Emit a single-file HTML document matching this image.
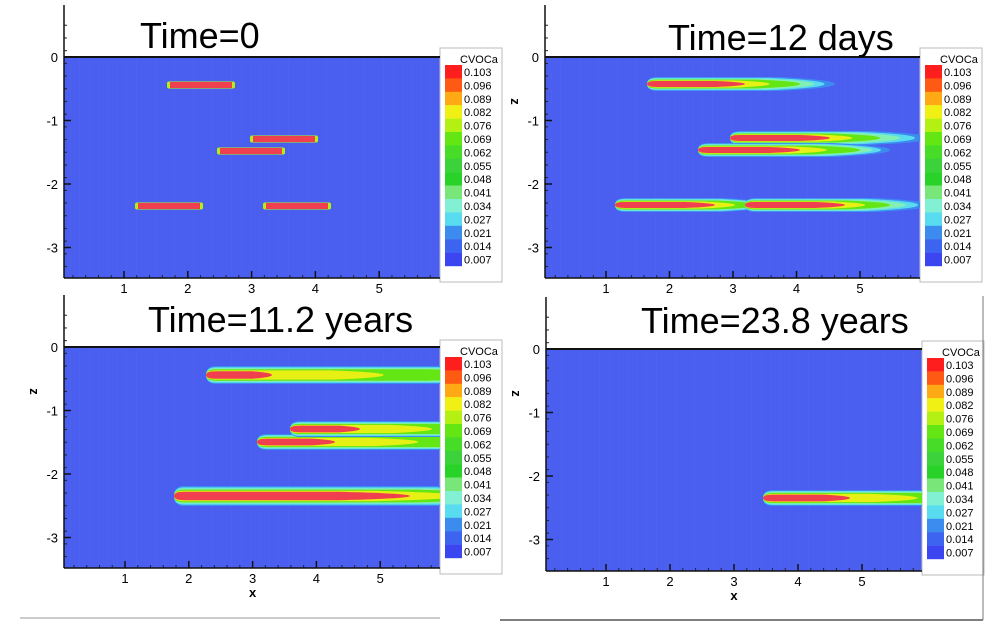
<!DOCTYPE html>
<html><head><meta charset="utf-8"><style>
body{margin:0;background:#fff;}
svg{display:block;font-family:"Liberation Sans",sans-serif;}
</style></head><body>
<svg id="s" width="1000" height="639" viewBox="0 0 1000 639" xmlns="http://www.w3.org/2000/svg">
<defs>
<clipPath id="c0"><rect x="64" y="57" width="376" height="221"/></clipPath>
<clipPath id="c1"><rect x="545" y="57" width="375" height="221"/></clipPath>
<clipPath id="c2"><rect x="64" y="347" width="376" height="221"/></clipPath>
<clipPath id="c3"><rect x="546" y="349" width="376" height="222"/></clipPath>
</defs>
<rect width="1000" height="639" fill="#fff"/>
<g id="g"></g>
<text x="140" y="48" font-size="36">Time=0</text>
<text x="668" y="50" font-size="36">Time=12 days</text>
<text x="148" y="332" font-size="36">Time=11.2 years</text>
<text x="641" y="333" font-size="36">Time=23.8 years</text>
</svg>
<script>
const NS="http://www.w3.org/2000/svg",g0=document.getElementById('g');
let g=g0;
function el(t,a,txt){const e=document.createElementNS(NS,t);for(const k in a)e.setAttribute(k,a[k]);if(txt!==undefined)e.textContent=txt;g.appendChild(e);return e;}
const cols=['#ff1e1e','#ff5a14','#ffaa14','#f0f014','#b4f014','#64e614','#46dc28','#3cd23c','#28d228','#78e678','#82f0d2','#5adcf0','#3c8cf0','#3c64f0','#3c46f0'];
const labs=['0.103','0.096','0.089','0.082','0.076','0.069','0.062','0.055','0.048','0.041','0.034','0.027','0.021','0.014','0.007'];
function panel(L,T,R,B,x1,dx,y0,dy,xlab,zlab,lg){
  el('rect',{x:L,y:T,width:R-L,height:B-T,fill:'#4a5ef0'});
  for(let x=L+6;x<R;x+=9.5)el('line',{x1:x,y1:T,x2:x,y2:B,stroke:'#5a6ef4','stroke-width':0.6,opacity:0.5});
  for(let i=0;i<5;i++){const x=x1+i*dx;el('line',{x1:x,y1:B,x2:x,y2:B-7,stroke:'#111','stroke-width':1.5});
    el('text',{x:x,y:B+15,'font-size':13,'text-anchor':'middle'},String(i+1));
    for(let j=1;j<5;j++){const xx=x-dx+j*dx/5;if(xx>L&&i==0)el('line',{x1:xx,y1:B,x2:xx,y2:B-3,stroke:'#223','stroke-width':1});}
    for(let j=1;j<5;j++){const xx=x+j*dx/5;if(xx<R)el('line',{x1:xx,y1:B,x2:xx,y2:B-3,stroke:'#223','stroke-width':1});}}
  for(let i=0;i<4;i++){const y=y0+i*dy;el('text',{x:L-6,y:y+5,'font-size':13,'text-anchor':'end'},i==0?'0':'-'+i);
    if(i>0)el('line',{x1:L,y1:y,x2:L+7,y2:y,stroke:'#111','stroke-width':1.5});}
  for(let y=y0-dy/2;y<B;y+=dy/5)el('line',{x1:L,y1:y,x2:L+3,y2:y,stroke:'#223','stroke-width':1});
  if(xlab)el('text',{x:x1+2*dx,y:B+29,'font-size':13,'font-weight':'bold','text-anchor':'middle'},'x');
  if(zlab)el('text',{x:L-34,y:y0+dy*0.7,'font-size':13,'font-weight':'bold','text-anchor':'middle',transform:`rotate(90 ${L-34} ${y0+dy*0.7})`},'z');
  const lx=R,ly=lg;
  el('rect',{x:lx,y:ly,width:62,height:234,fill:'#fff',stroke:'#bbb','stroke-width':1});
  el('text',{x:lx+20,y:ly+15,'font-size':11},'CVOCa');
  for(let i=0;i<15;i++){el('rect',{x:lx+5,y:ly+17+i*13.4,width:17,height:13.6,fill:cols[i]});
    el('text',{x:lx+24,y:ly+28+i*13.4,'font-size':11},labs[i]);}
}
function axes(L,T,R,B){
  el('line',{x1:L,y1:T,x2:R,y2:T,stroke:'#111','stroke-width':2});
  el('line',{x1:L,y1:T-52,x2:L,y2:B,stroke:'#111','stroke-width':1.5});
  el('line',{x1:L,y1:B,x2:R,y2:B,stroke:'#111','stroke-width':1.5});
}
panel(64,57,440,278,124,63.8,57,63.5,false,false,48);
panel(545,57,920,278,606,63.5,57,63.5,false,true,48);
panel(64,347,440,568,125,63.8,347,63.5,true,true,340);
panel(546,349,922,571,606,64,349,63.5,true,true,341);
function shape(xh,y,end,hh,c){
  const k=end-xh,n=Math.min(10,k/4);
  el('path',{d:`M${xh} ${y} Q${xh} ${y-hh} ${xh+n} ${y-hh} L${end-k*0.3} ${y-hh} Q${end} ${y-hh*0.6} ${end} ${y} Q${end} ${y+hh*0.6} ${end-k*0.3} ${y+hh} L${xh+n} ${y+hh} Q${xh} ${y+hh} ${xh} ${y}Z`,fill:c});
}
function plume(xh,y,xr,xe,h,ext){
  // ext: end extension multiplier for outer layers
  const L=[['#3c8cf0',1.0,xe+ext*1.0],['#5adcf0',0.88,xe+ext*0.7],['#82f0b4',0.76,xe+ext*0.4],['#64e614',0.64,xe],['#e6f014',0.52,xr+(xe-xr)*0.45],['#f04050',0.42,xr]];
  for(const [c,f,e] of L)shape(xh,y,e,h*f,c);
}
g=document.createElementNS(NS,'g');g.setAttribute('clip-path','url(#c1)');g0.appendChild(g);
plume(647,84,745,800,7,35);
plume(730,138,830,880,7,50);
plume(698,150,800,860,7,30);
plume(615,205,715,760,7,10);
plume(745,205,845,890,7,40);
g=document.createElementNS(NS,'g');g.setAttribute('clip-path','url(#c2)');g0.appendChild(g);
plume(206,375,272,520,9,40);
plume(257,442,335,520,8,40);
plume(290,429,360,520,8,40);
plume(174,496,410,520,10,40);
g=document.createElementNS(NS,'g');g.setAttribute('clip-path','url(#c3)');g0.appendChild(g);
plume(763,498,850,1000,8,40);
g=g0;
function bar(x0,x1,y){el('rect',{x:x0,y:y-3.5,width:x1-x0,height:7,fill:'#b4f014',rx:2});el('rect',{x:x0+3,y:y-3,width:x1-x0-6,height:6,fill:'#f04050'});}
bar(167,235,85);bar(250,318,139);bar(217,285,151);bar(135,203,206);bar(263,331,206);
axes(64,57,440,278);axes(545,57,920,278);axes(64,347,440,568);axes(546,349,922,571);
el('line',{x1:500,y1:620,x2:983,y2:620,stroke:'#555','stroke-width':1.5});
el('line',{x1:983,y1:296,x2:983,y2:620,stroke:'#777','stroke-width':1});
el('line',{x1:20,y1:618,x2:440,y2:618,stroke:'#999','stroke-width':1});
</script>
</body></html>
